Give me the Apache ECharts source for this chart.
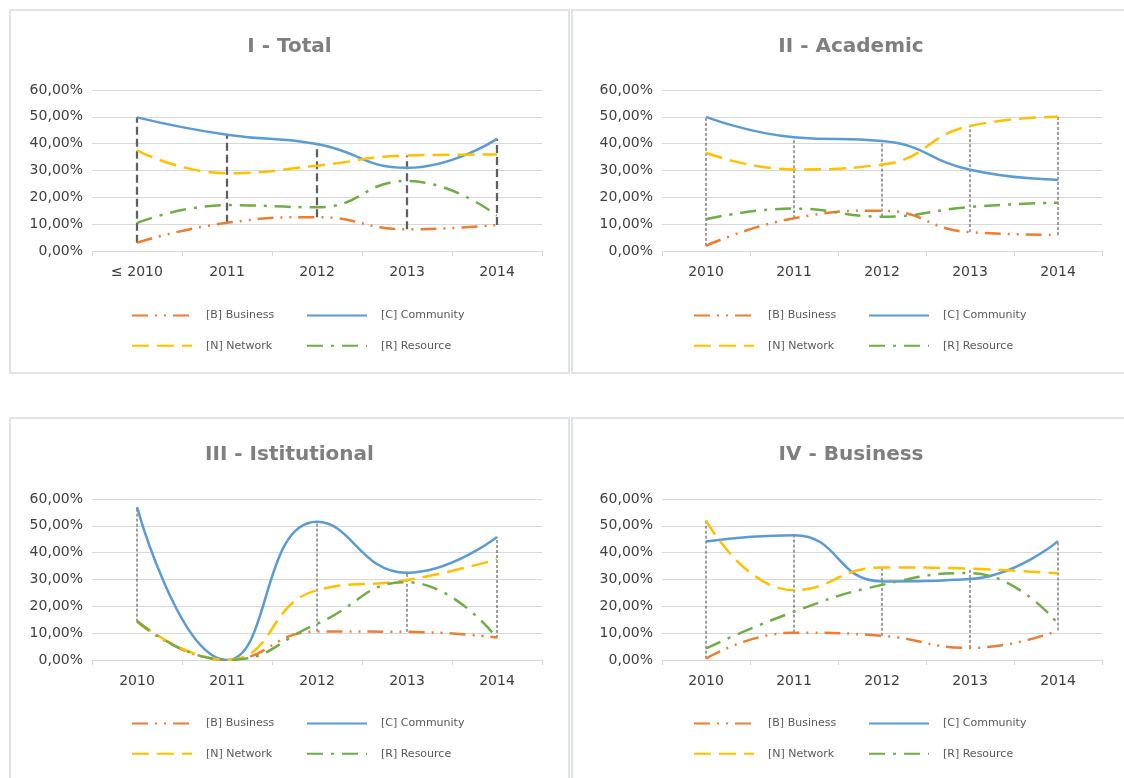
<!DOCTYPE html>
<html>
<head>
<meta charset="utf-8">
<script src="https://cdn.jsdelivr.net/npm/echarts@6/dist/echarts.min.js"></script>
<style>
  html, body { margin: 0; padding: 0; background: #fff; width: 1124px; height: 778px; overflow: hidden; position: relative; }
  .panel { position: absolute; border: 2px solid #e0e3e9; box-sizing: border-box; background: #fff; }
  .panel > div { width: 100%; height: 100%; }
</style>
</head>
<body>
<div class="panel" style="left:9px;top:9px;width:561px;height:365px;"><div id="p1"></div></div>
<div class="panel" style="left:571px;top:9px;width:560px;height:365px;"><div id="p2"></div></div>
<div class="panel" style="left:9px;top:417px;width:561px;height:370px;"><div id="p3"></div></div>
<div class="panel" style="left:571px;top:417px;width:560px;height:370px;"><div id="p4"></div></div>
<script>
// categories
const yearsTotal = ['≤ 2010', '2011', '2012', '2013', '2014'];
const years = ['2010', '2011', '2012', '2013', '2014'];
const seriesNames = ['[B] Business', '[C] Community', '[N] Network', '[R] Resource'];

// I - Total (values in %)
const totalB = [3.1, 10.5, 12.6, 8.1, 9.7];
const totalC = [49.8, 43.3, 39.9, 31.0, 41.8];
const totalN = [37.5, 29.0, 31.8, 35.6, 36.0];
const totalR = [10.4, 17.1, 16.3, 26.1, 13.2];

// II - Academic
const acadB = [1.9, 12.2, 15.0, 7.0, 6.0];
const acadC = [50.0, 42.4, 41.0, 30.3, 26.5];
const acadN = [36.6, 30.4, 32.2, 46.6, 50.0];
const acadR = [11.8, 15.8, 12.8, 16.4, 18.0];

// III - Istitutional
const istB = [14.3, 0, 10.6, 10.5, 8.4];
const istC = [57.0, 0, 51.5, 32.5, 45.8];
const istN = [14.5, 0, 26.0, 29.8, 37.5];
const istR = [14.6, 0, 13.5, 29.0, 8.2];

// IV - Business
const busB = [0.5, 10.2, 9.0, 4.5, 11.0];
const busC = [44.2, 46.5, 29.3, 30.2, 44.3];
const busN = [52.0, 26.0, 34.5, 34.0, 32.3];
const busR = [4.3, 18.0, 28.0, 32.4, 13.5];

// y axis ticks
const yMin = 0, yMax = 60, yStep = 10;

const FONT = 'DejaVu Sans';
const colors = ['#ed7d31', '#5b9bd5', '#ffc000', '#70ad47'];
const dashes = [[16, 7, 2, 7, 2, 7], 'solid', [17, 8], [16, 8, 3, 8]];

function makeOption(title, cats, vals, gridLeft, gridW, gridTop, hl) {
  const hiLo = cats.map((c, i) => {
    const col = vals.map(v => v[i]);
    return [i, Math.min(...col), Math.max(...col)];
  });
  const lines = vals.map((v, k) => ({
    name: seriesNames[k],
    type: 'line',
    data: v,
    smooth: 0.5,
    symbol: 'none',
    z: 3,
    lineStyle: { color: colors[k], width: 2.5, type: dashes[k], cap: 'butt' },
    itemStyle: { color: colors[k] }
  }));
  const legendBase = {
    orient: 'vertical', top: 294, itemWidth: 60, itemHeight: 14, itemGap: 19,
    itemStyle: { opacity: 0, borderWidth: 0 },
    textStyle: { fontFamily: FONT, fontSize: 11, color: '#595959', padding: [0, 0, 0, 9] },
    selectedMode: false
  };
  return {
    animation: false,
    title: {
      text: title, left: 'center', top: 21,
      textStyle: { fontFamily: FONT, fontSize: 20, fontWeight: 'bold', color: '#7f7f7f' }
    },
    legend: [
      Object.assign({}, legendBase, { left: 115, data: [seriesNames[0], seriesNames[2]] }),
      Object.assign({}, legendBase, { left: 290, data: [seriesNames[1], seriesNames[3]] })
    ],
    grid: { left: gridLeft, top: gridTop, width: gridW, height: 161, containLabel: false },
    xAxis: {
      type: 'category', data: cats, boundaryGap: true,
      axisLine: { lineStyle: { color: '#d9d9d9', width: 1 } },
      axisTick: { show: true, length: 5, lineStyle: { color: '#d9d9d9' } },
      axisLabel: { fontFamily: FONT, fontSize: 14, color: '#404040', margin: 14 },
      splitLine: { show: false }
    },
    yAxis: {
      type: 'value', min: yMin, max: yMax, interval: yStep,
      axisLine: { show: false }, axisTick: { show: false },
      axisLabel: {
        fontFamily: FONT, fontSize: 14, color: '#404040', margin: 9,
        formatter: v => v.toFixed(2).replace('.', ',') + '%'
      },
      splitLine: { lineStyle: { color: '#d9d9d9', width: 1 } }
    },
    series: [{
      type: 'custom',
      z: 2,
      data: hiLo,
      renderItem: (params, api) => {
        const p1 = api.coord([api.value(0), api.value(1)]);
        const p2 = api.coord([api.value(0), api.value(2)]);
        return {
          type: 'line',
          shape: { x1: p1[0], y1: p1[1], x2: p2[0], y2: p2[1] },
          style: { stroke: hl.color, lineWidth: hl.width, lineDash: hl.dash }
        };
      }
    }].concat(lines)
  };
}

const hlThick = { color: '#5f5f5f', width: 2.25, dash: [8, 4] };
const hlThin = { color: '#404040', width: 1, dash: [3, 2] };

echarts.init(document.getElementById('p1')).setOption(
  makeOption('I - Total', yearsTotal, [totalB, totalC, totalN, totalR], 81, 450, 79, hlThick));
echarts.init(document.getElementById('p2')).setOption(
  makeOption('II - Academic', years, [acadB, acadC, acadN, acadR], 89, 440, 79, hlThin));
echarts.init(document.getElementById('p3')).setOption(
  makeOption('III - Istitutional', years, [istB, istC, istN, istR], 81, 450, 80, hlThin));
echarts.init(document.getElementById('p4')).setOption(
  makeOption('IV - Business', years, [busB, busC, busN, busR], 89, 440, 80, hlThin));
</script>
</body>
</html>
